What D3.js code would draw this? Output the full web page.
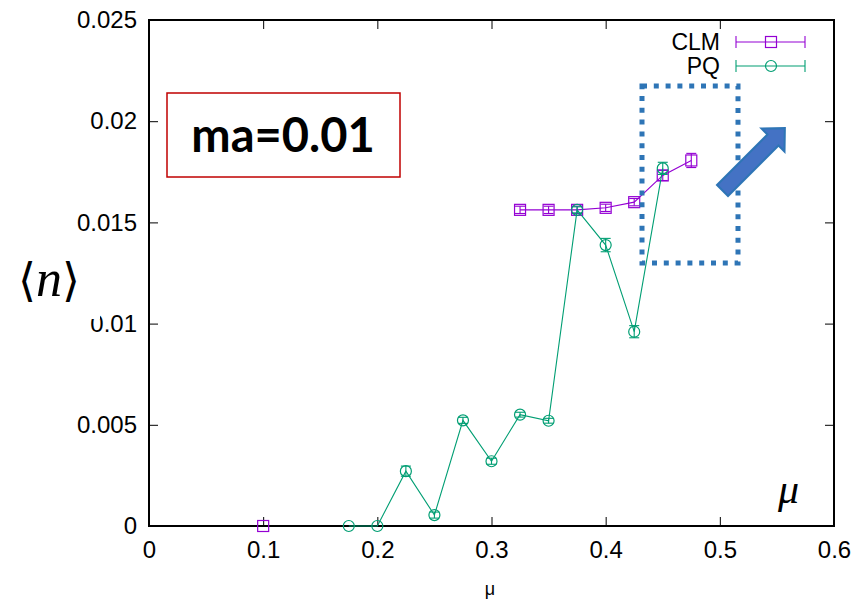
<!DOCTYPE html>
<html>
<head>
<meta charset="utf-8">
<script src="https://cdn.jsdelivr.net/npm/d3@7"></script>
<style>
  html, body { margin: 0; padding: 0; background: #fff; }
  svg { display: block; }
</style>
</head>
<body>
<svg id="chart" width="865" height="600"></svg>
<script>
// ---- data ----
const seriesNames = ["CLM", "PQ"];
// CLM (null marks a break in the line)
const clmMu  = [0.1, null, 0.325, 0.35, 0.375, 0.4, 0.425, 0.45, 0.475];
const clmN   = [0.0, null, 0.01562, 0.01562, 0.01562, 0.01572, 0.01600, 0.01732, 0.01806];
const clmErr = [0.0, null, 0.00018, 0.00018, 0.00018, 0.00018, 0.00018, 0.00025, 0.00035];
// PQ
const pqMu  = [0.175, 0.2, 0.225, 0.25, 0.275, 0.3, 0.325, 0.35, 0.375, 0.4, 0.425, 0.45];
const pqN   = [0.0, 0.0, 0.00271, 0.00054, 0.00522, 0.0032, 0.0055, 0.0052, 0.01562, 0.01388, 0.0096, 0.01767];
const pqErr = [0.0, 0.0, 0.00025, 0.00015, 0.00015, 0.00015, 0.00012, 0.00012, 0.00015, 0.00033, 0.0003, 0.0003];
// ticks
const xTicks = [0, 0.1, 0.2, 0.3, 0.4, 0.5, 0.6];
const xTickLabels = ["0", "0.1", "0.2", "0.3", "0.4", "0.5", "0.6"];
const yTicks = [0, 0.005, 0.01, 0.015, 0.02, 0.025];
const yTickLabels = ["0", "0.005", "0.01", "0.015", "0.02", "0.025"];
const annotationText = "ma=0.01";

// ---- layout ----
const svg = d3.select("#chart");
const L = 149, R = 834, T = 20, B = 526;
const x = d3.scaleLinear().domain([0, 0.6]).range([L, R]);
const y = d3.scaleLinear().domain([0, 0.025]).range([B, T]);
const purple = "#9400d3", green = "#009e73";
const tickFont = "'Liberation Sans', Arial, Helvetica, sans-serif";

// axes with inward ticks
const gx = svg.append("g").attr("transform", `translate(0,${B})`)
  .call(d3.axisBottom(x).tickValues(xTicks).tickFormat((d, i) => xTickLabels[i]).tickSize(-9).tickPadding(15));
const gy = svg.append("g").attr("transform", `translate(${L},0)`)
  .call(d3.axisLeft(y).tickValues(yTicks).tickFormat((d, i) => yTickLabels[i]).tickSize(-9).tickPadding(12));
const gt = svg.append("g").attr("transform", `translate(0,${T})`)
  .call(d3.axisTop(x).tickValues(xTicks).tickFormat("").tickSize(-9));
const gr = svg.append("g").attr("transform", `translate(${R},0)`)
  .call(d3.axisRight(y).tickValues(yTicks).tickFormat("").tickSize(-9));
[gx, gy, gt, gr].forEach(g => {
  g.select(".domain").remove();
  g.selectAll(".tick line").attr("stroke", "#000").attr("stroke-width", 1);
  g.selectAll(".tick text").attr("fill", "#000")
    .style("font-family", tickFont).style("font-size", "24px");
});

// frame
svg.append("rect").attr("x", L).attr("y", T).attr("width", R - L).attr("height", B - T)
  .attr("fill", "none").attr("stroke", "#000").attr("stroke-width", 2);

// axis label (x)
svg.append("text").attr("x", 490).attr("y", 595).attr("text-anchor", "middle")
  .style("font-family", tickFont).style("font-size", "18px").text("μ");

// ---- series ----
function drawSeries(mu, n, err, color, shape) {
  const data = mu.map((m, i) => ({ m, v: n[i], e: err[i] }));
  const g = svg.append("g");
  const line = d3.line().defined(d => d.m !== null).x(d => x(d.m)).y(d => y(d.v));
  g.append("path").datum(data).attr("d", line).attr("fill", "none")
    .attr("stroke", color).attr("stroke-width", 1.1);
  const pts = data.filter(d => d.m !== null);
  const cap = 5;
  pts.forEach(d => {
    const cx = x(d.m), y1 = y(d.v - d.e), y2 = y(d.v + d.e);
    if (d.e > 0) {
      g.append("line").attr("x1", cx).attr("x2", cx).attr("y1", y1).attr("y2", y2)
        .attr("stroke", color).attr("stroke-width", 1.1);
      [y1, y2].forEach(yy => g.append("line").attr("x1", cx - cap).attr("x2", cx + cap)
        .attr("y1", yy).attr("y2", yy).attr("stroke", color).attr("stroke-width", 1.1));
    }
    if (shape === "square") {
      g.append("rect").attr("x", cx - 5.5).attr("y", y(d.v) - 5.5).attr("width", 11).attr("height", 11)
        .attr("fill", "none").attr("stroke", color).attr("stroke-width", 1.2);
    } else {
      g.append("circle").attr("cx", cx).attr("cy", y(d.v)).attr("r", 5.5)
        .attr("fill", "none").attr("stroke", color).attr("stroke-width", 1.2);
    }
  });
}
drawSeries(clmMu, clmN, clmErr, purple, "square");
drawSeries(pqMu, pqN, pqErr, green, "circle");

// ---- legend ----
const legend = [{ name: seriesNames[0], color: purple, shape: "square", yy: 42 },
                { name: seriesNames[1], color: green, shape: "circle", yy: 66 }];
legend.forEach(l => {
  const g = svg.append("g");
  g.append("text").attr("x", 720).attr("y", l.yy + 8).attr("text-anchor", "end")
    .style("font-family", tickFont).style("font-size", "23px").text(l.name);
  g.append("line").attr("x1", 736).attr("x2", 805).attr("y1", l.yy).attr("y2", l.yy)
    .attr("stroke", l.color).attr("stroke-width", 1.1);
  [736, 805].forEach(xx => g.append("line").attr("x1", xx).attr("x2", xx)
    .attr("y1", l.yy - 6).attr("y2", l.yy + 6).attr("stroke", l.color).attr("stroke-width", 1.1));
  if (l.shape === "square") {
    g.append("rect").attr("x", 771 - 5.5).attr("y", l.yy - 5.5).attr("width", 11).attr("height", 11)
      .attr("fill", "none").attr("stroke", l.color).attr("stroke-width", 1.2);
  } else {
    g.append("circle").attr("cx", 771).attr("cy", l.yy).attr("r", 5.5)
      .attr("fill", "none").attr("stroke", l.color).attr("stroke-width", 1.2);
  }
});

// ---- annotations ----
// y-axis label image (white background partially covering "0.01")
svg.append("rect").attr("x", 8).attr("y", 245).attr("width", 92).attr("height", 74).attr("fill", "#fff");
const ylab = svg.append("text").attr("x", 18).attr("y", 296)
  .style("font-family", "'DejaVu Serif', 'Liberation Serif', serif").style("font-size", "46px");
ylab.append("tspan").style("font-family", "'DejaVu Sans', sans-serif").style("font-weight", "200").text("⟨");
ylab.append("tspan").style("font-family", "'Liberation Serif', serif").style("font-style", "italic").style("font-size", "52px").text("n");
ylab.append("tspan").style("font-family", "'DejaVu Sans', sans-serif").style("font-weight", "200").text("⟩");

// big mu
svg.append("text").attr("x", 778).attr("y", 503)
  .style("font-family", "'Liberation Serif', serif").style("font-style", "italic")
  .style("font-size", "42px").text("μ");

// ma box
svg.append("rect").attr("x", 167).attr("y", 93).attr("width", 233).attr("height", 84)
  .attr("fill", "#fff").attr("stroke", "#c00000").attr("stroke-width", 1.5);
svg.append("text").attr("x", 283).attr("y", 152).attr("text-anchor", "middle")
  .style("font-family", "Lato, 'Open Sans', sans-serif").style("font-weight", "bold")
  .style("font-size", "47px").attr("fill", "#000").text(annotationText);

// dotted highlight rectangle
svg.append("rect").attr("x", 642).attr("y", 86).attr("width", 96).attr("height", 177)
  .attr("fill", "none").attr("stroke", "#2e75b6").attr("stroke-width", 5)
  .attr("stroke-dasharray", "5,6.8");

// arrow
const arrowPts = [[0, -7.8], [71.4, -7.8], [71.4, -16.3], [88.2, 0], [71.4, 16.3], [71.4, 7.8], [0, 7.8]];
svg.append("polygon").attr("points", arrowPts.map(p => p.join(",")).join(" "))
  .attr("transform", "translate(722.5,190.5) rotate(-45)")
  .attr("fill", "#4472c4").attr("stroke", "#2e75b6").attr("stroke-width", 2);
</script>
</body>
</html>
